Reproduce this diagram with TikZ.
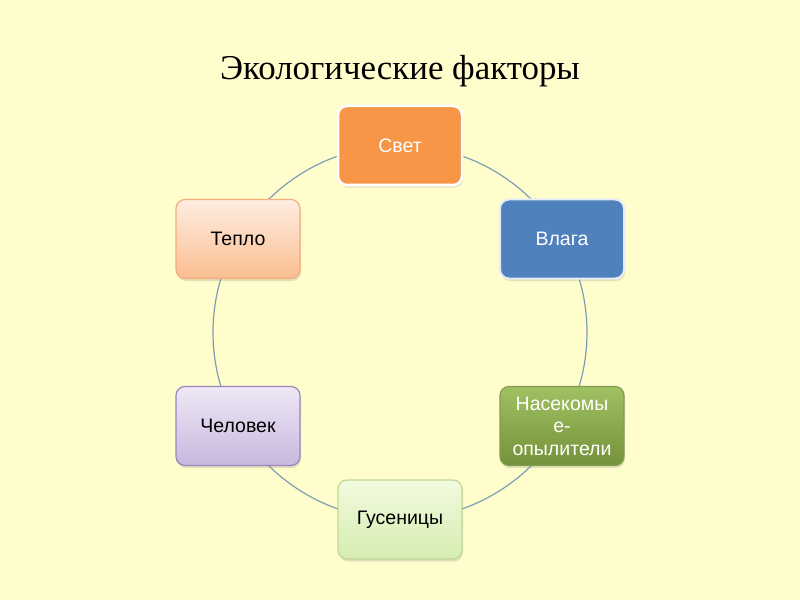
\documentclass[tikz,border=0pt]{standalone}
\usepackage{fontspec}
\setmainfont{Liberation Serif}
\newfontfamily\boxfont{Liberation Sans}
\usetikzlibrary{shadows}
\definecolor{bg}{HTML}{FFFDCB}
\definecolor{ring}{HTML}{7F9DB5}
\definecolor{orangeA}{HTML}{F79646}
\definecolor{blueA}{HTML}{4F81BD}
\definecolor{greenTop}{HTML}{A0C162}
\definecolor{greenBot}{HTML}{74923A}
\definecolor{lgTop}{HTML}{F2FADF}
\definecolor{lgBot}{HTML}{D6EDB0}
\definecolor{lgBorder}{HTML}{BFDA92}
\definecolor{puTop}{HTML}{EEE8F6}
\definecolor{puBot}{HTML}{C8B7DE}
\definecolor{puBorder}{HTML}{9C85BD}
\definecolor{peTop}{HTML}{FEEDE0}
\definecolor{peBot}{HTML}{FBBE92}
\definecolor{peBorder}{HTML}{F4AE7C}
\tikzset{
  factor/.style={rounded corners=9bp, minimum width=124bp, minimum height=79bp,
    text width=118bp, inner sep=2bp, align=center,
    font=\boxfont\fontsize{19.6}{22.5}\selectfont, line width=1.2bp,
    drop shadow={opacity=0.22, shadow xshift=1bp, shadow yshift=-2.5bp}},
  ringline/.style={draw=ring, line width=1.2bp}
}
\begin{document}
\begin{tikzpicture}[x=1bp,y=-1bp]
\fill[bg] (0,0) rectangle (800,600);
\useasboundingbox (0,0) rectangle (800,600);
\node (title) at (400,71) {\fontsize{35}{40}\selectfont Экологические факторы};
\coordinate (c) at (400,332.5);
\draw[ringline] (c) circle[radius=187bp];
\node[factor, fill=orangeA, draw=white, line width=2.5bp, text=white] (svet) at (400,145.5) {Свет};
\node[factor, fill=blueA, draw=white!85!blueA, line width=2bp, text=white] (vlaga) at (562,239) {Влага};
\node[factor, top color=greenTop, bottom color=greenBot, draw=greenBot!90!white, text=white] (nasek) at (562,426) {Насекомы\\е-\\опылители};
\node[factor, top color=lgTop, bottom color=lgBot, draw=lgBorder, text=black] (gus) at (400,519.5) {Гусеницы};
\node[factor, top color=puTop, bottom color=puBot, draw=puBorder, text=black] (chel) at (238,426) {Человек};
\node[factor, top color=peTop, bottom color=peBot, draw=peBorder, text=black] (teplo) at (238,239) {Тепло};
\end{tikzpicture}
\end{document}
